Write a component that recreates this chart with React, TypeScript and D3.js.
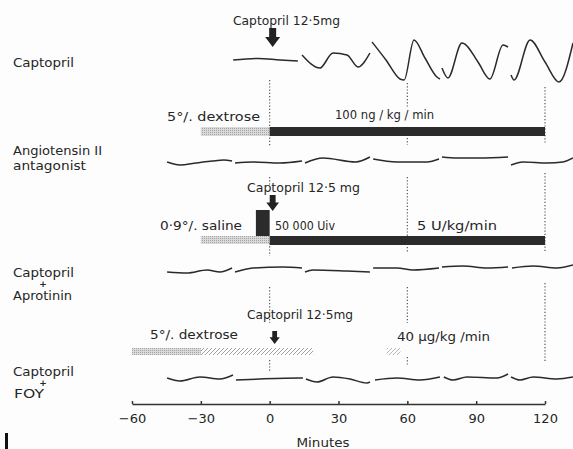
import React, { useRef, useEffect } from 'react';
import * as d3 from 'd3';

// time axis (minutes)
const minuteTicks = [-60, -30, 0, 30, 60, 90, 120];
const guideMinutes = [0, 60, 120];

// infusion periods, minutes
const dextrosePre = [-30, 0];
const antagonistInfusion = [0, 120];
const salinePre = [-30, 0];
const aprotininBolus = [-6, 0];
const aprotininInfusion = [0, 120];
const dextrosePreFoy = [-60, -30];
const foyInfusionVisible = [[-30, 19], [51, 57]];

// blood pressure traces: segments of [minute, deflection]
const traceCaptopril: [number, number][][] = [
  [[-15.9, 0], [-5.1, 1.5], [4.5, 0], [12.3, -1]],
  [[14.1, 5], [21.9, -8], [27.6, 7], [33.7, 5], [38.5, -7], [43.7, 7]],
  [[44.6, 18], [50.7, 0], [56.8, -19], [58.6, -20], [62.9, 20], [67.7, 2], [72.9, -17], [74.2, -19]],
  [[75.1, -8], [77.7, -18], [83.8, 17], [85, 16], [90.8, -2], [96, -19], [101.7, 15], [103.9, 13]],
  [[105.2, -15], [106.5, -20], [113.5, 20], [120, -2], [126.1, -22], [132.2, 17]],
];
const traceAntagonist: [number, number][][] = [
  [[-44.7, 0], [-39, -3], [-32, -1], [-25, 1], [-20, 2], [-16.4, 1]],
  [[-15.1, -1], [-7.3, 0], [4.5, -1], [14.1, 1]],
  [[15.4, -1], [23.2, 4], [37.5, 0], [43.7, 5]],
  [[45.1, 3], [55.5, 0], [68.6, 0], [73.8, 3]],
  [[75.1, 5], [81.6, 4], [91.7, 4], [103.9, 5]],
  [[105.2, -3], [110.4, 0], [120.9, -1], [127.8, 0], [132.2, 4]],
];
const traceAprotinin: [number, number][][] = [
  [[-44.7, -2], [-36, -3], [-27.3, 0], [-21.7, -2], [-16.4, 2]],
  [[-15.1, -2], [-7.3, 2], [5.8, 3], [14.1, 2]],
  [[15.4, -2], [18.9, 0], [33.6, -1], [43.7, -2]],
  [[45.1, 2], [55.5, 2], [62.5, 0], [73.8, 2]],
  [[75.1, 3], [84.3, 4], [94.7, 2], [103.9, 3]],
  [[105.6, 2], [114.8, 4], [125.2, 2], [132.2, 5]],
];
const traceFoy: [number, number][][] = [
  [[-44.7, 1], [-39.1, -2], [-30.4, 2], [-21.7, 0], [-16, 4]],
  [[-14.7, -1], [-4.2, 0], [13.2, 1], [14.5, 1]],
  [[15.8, 0], [20.6, -3], [27.6, 2], [35, 0], [42.4, -4], [43.7, -3]],
  [[45.9, -1], [55.5, 1], [65.5, -1], [74.2, 2]],
  [[75.9, 2], [79.9, -1], [86, 2], [99, 1], [103.9, 5]],
  [[105.2, 2], [109.1, -1], [114.8, 2], [125.2, 0], [132.2, 2]],
];

const FONT = '"DejaVu Sans", sans-serif';
const INK = '#262626';

const App = () => {
  const svgRef = useRef<SVGSVGElement>(null);
  useEffect(() => {
    d3.select(svgRef.current).selectAll('*').remove();
    const svg = d3.select(svgRef.current);

    const x = d3.scaleLinear().domain([-60, 120]).range([132, 545]);

    const defs = svg.append('defs');
    const stip = defs
      .append('pattern')
      .attr('id', 'stipple')
      .attr('width', 2)
      .attr('height', 2)
      .attr('patternUnits', 'userSpaceOnUse');
    stip.append('rect').attr('width', 2).attr('height', 2).attr('fill', '#dadada');
    stip.append('rect').attr('width', 1).attr('height', 1).attr('fill', '#a4a4a4');
    const hatch = defs
      .append('pattern')
      .attr('id', 'hatch')
      .attr('width', 4)
      .attr('height', 4)
      .attr('patternUnits', 'userSpaceOnUse');
    hatch
      .append('path')
      .attr('d', 'M-1,1 l2,-2 M0,4 l4,-4 M3,5 l2,-2')
      .attr('stroke', '#8a8a8a')
      .attr('stroke-width', 1);

    svg.append('rect').attr('width', 573).attr('height', 449).attr('fill', '#fdfdfd');

    // dotted guides at 0, 60 and 120 min
    const guideSpans: Record<number, number[][]> = {
      0: [[80, 147], [177, 186], [243, 256], [287, 323], [360, 372]],
      60: [[83, 107], [138, 145], [177, 237], [247, 253], [287, 323], [357, 365]],
      120: [[87, 143], [173, 253], [283, 362]],
    };
    guideMinutes.forEach((m) => {
      guideSpans[m].forEach(([y1, y2]) => {
        svg
          .append('line')
          .attr('x1', x(m))
          .attr('x2', x(m))
          .attr('y1', y1)
          .attr('y2', y2)
          .attr('stroke', '#444')
          .attr('stroke-width', 1.1)
          .attr('stroke-dasharray', '1.2,2');
      });
    });

    const text = (tx: number, ty: number, s: string, size = 13, anchor = 'start', len = 0) => {
      const t = svg
        .append('text')
        .attr('x', tx)
        .attr('y', ty)
        .attr('font-family', FONT)
        .attr('font-size', size)
        .attr('fill', INK)
        .attr('text-anchor', anchor)
        .text(s);
      if (len) t.attr('textLength', len).attr('lengthAdjust', 'spacingAndGlyphs');
      return t;
    };

    // row labels
    text(13, 67, 'Captopril', 13, 'start', 61);
    text(13, 155, 'Angiotensin II', 13, 'start', 89);
    text(13, 170, 'antagonist', 13, 'start', 73);
    text(13, 277, 'Captopril', 13, 'start', 61);
    text(43, 287, '+', 9, 'middle').attr('font-weight', 'bold');
    text(13, 300, 'Aprotinin', 13, 'start', 59);
    text(13, 376, 'Captopril', 13, 'start', 61);
    text(43, 386, '+', 9, 'middle').attr('font-weight', 'bold');
    text(14, 398, 'FOY', 13, 'start', 30);

    // annotations
    text(233, 25, 'Captopril 12·5mg', 13, 'start', 107);
    text(167, 121, '5°/. dextrose', 13, 'start', 93);
    text(335, 119, '100 ng / kg / min', 13, 'start', 99);
    text(247, 192, 'Captopril 12·5 mg', 13, 'start', 113);
    text(160, 230, '0·9°/. saline', 13, 'start', 82);
    text(275, 230, '50 000 Uiv', 13, 'start', 60);
    text(417, 230, '5 U/kg/min', 13, 'start', 80);
    text(247, 319, 'Captopril 12·5mg', 13, 'start', 106);
    text(150, 339, '5°/. dextrose', 13, 'start', 88);
    text(397, 341, '40 µg/kg /min', 13, 'start', 93);

    // arrows
    const arrow = (cx: number, top: number, h: number) => {
      const s = h / 19;
      svg
        .append('path')
        .attr(
          'd',
          `M${cx - 3.5 * s},${top} h${7 * s} v${9 * s} h${4 * s} l${-7.5 * s},${10 * s} l${-7.5 * s},${-10 * s} h${4 * s} Z`
        )
        .attr('fill', '#222');
    };
    arrow(x(0) + 3, 28, 19);
    arrow(x(0) + 3, 195, 16);
    arrow(x(0) + 5, 331, 13);

    // infusion bars
    const bar = (r: number[], y0: number, h: number, fill: string, op = 1) =>
      svg
        .append('rect')
        .attr('x', x(r[0]))
        .attr('y', y0)
        .attr('width', x(r[1]) - x(r[0]))
        .attr('height', h)
        .attr('fill', fill)
        .attr('opacity', op);
    bar(dextrosePre, 127, 9, 'url(#stipple)');
    bar(antagonistInfusion, 127, 9, '#2b2b2b');
    bar(salinePre, 236, 8, 'url(#stipple)');
    bar(aprotininBolus, 210, 26, '#2b2b2b');
    bar(aprotininInfusion, 236, 9, '#2b2b2b');
    bar(dextrosePreFoy, 348, 7, 'url(#stipple)');
    bar(foyInfusionVisible[0], 348, 7, 'url(#hatch)', 0.8);
    bar(foyInfusionVisible[1], 348, 7, 'url(#hatch)', 0.6);

    // traces
    const drawTrace = (segs: [number, number][][], base: number) => {
      const y = d3.scaleLinear().domain([-25, 25]).range([base + 25, base - 25]);
      const line = d3
        .line<[number, number]>()
        .x((d) => x(d[0]))
        .y((d) => y(d[1]))
        .curve(d3.curveMonotoneX);
      svg
        .append('g')
        .selectAll('path')
        .data(segs)
        .join('path')
        .attr('d', (d) => line(d))
        .attr('fill', 'none')
        .attr('stroke', '#2a2a2a')
        .attr('stroke-width', 1.5)
        .attr('stroke-linejoin', 'round');
    };
    drawTrace(traceCaptopril, 60);
    drawTrace(traceAntagonist, 162);
    drawTrace(traceAprotinin, 270);
    drawTrace(traceFoy, 379);

    // axis
    const axis = d3
      .axisBottom(x)
      .tickValues(minuteTicks)
      .tickSizeInner(-3)
      .tickSizeOuter(0)
      .tickPadding(10)
      .tickFormat((d) => (+d < 0 ? '−' + Math.abs(+d) : String(d)));
    const g = svg.append('g').attr('transform', 'translate(0,404)').call(axis);
    g.select('.domain').attr('stroke', '#333').attr('stroke-width', 1.5);
    g.selectAll('.tick line').attr('stroke', '#333').attr('stroke-width', 1.5);
    g.selectAll('.tick text').attr('font-family', FONT).attr('font-size', 13).attr('fill', INK);
    text(323, 447, 'Minutes', 13, 'middle', 53);

    // scan edge mark
    svg.append('rect').attr('x', 5).attr('y', 433).attr('width', 3).attr('height', 16).attr('fill', '#111');
  }, []);

  return (
    <svg
      ref={svgRef}
      width={573}
      height={449}
      style={{ position: 'absolute', left: 0, top: 0 }}
    ></svg>
  );
};

export default App;
